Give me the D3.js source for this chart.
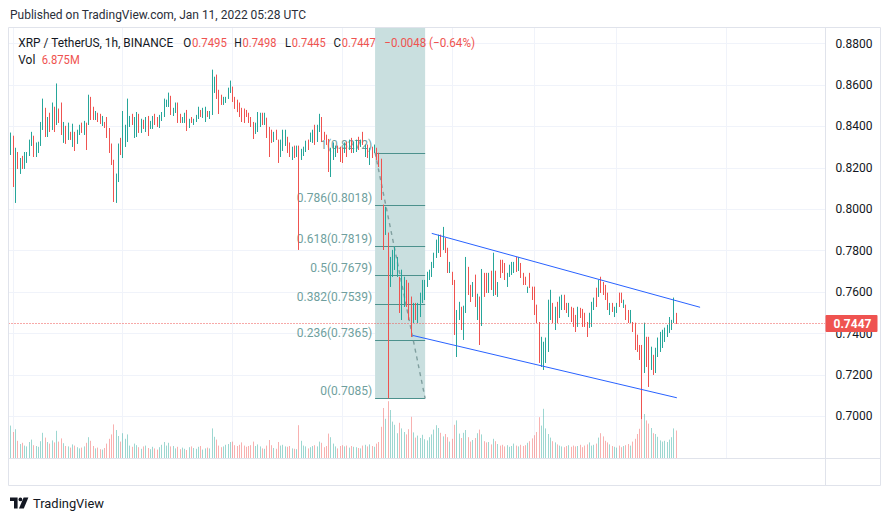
<!DOCTYPE html>
<html><head><meta charset="utf-8">
<script src="https://cdn.jsdelivr.net/npm/d3@7"></script>
<style>html,body{margin:0;padding:0;background:#fff;}svg{display:block;font-family:Roboto,"Noto Sans",sans-serif;}</style>
</head><body>
<svg id="chart" width="891" height="521"></svg>
<script>
// ---------------- DATA ----------------
const firstCandle = Date.UTC(2021, 11, 29, 23); // hourly candles from here
const open = [
.8261,.8353,.8030,.8275,.8170,.8256,.8194,.8223,.8256,.8305,.8353,.8251,.8271,.8305,.8382,.8488,.8348,.8464,.8382,.8493,.8406,.8484,.8513,.8320,.8401,.8334,.8372,.8300,.8372,.8315,.8358,.8416,.8358,.8416,.8406,.8541,.8493,.8430,.8464,.8459,.8401,.8420,.8444,.8391,.8315,.8237,.8030,.8130,.8343,
.8246,.8300,.8324,.8396,.8459,.8343,.8348,.8459,.8368,.8430,.8372,.8449,.8387,.8387,.8459,.8444,.8391,.8425,.8444,.8493,.8493,.8546,.8449,.8464,.8513,.8459,.8416,.8416,.8478,.8391,.8444,.8406,.8420,.8435,.8478,.8440,.8420,.8473,.8435,.8454,.8561,.8648,.8575,.8551,.8503,.8513,.8532,.8561,
.8590,.8541,.8527,.8513,.8488,.8484,.8478,.8464,.8444,.8420,.8363,.8372,.8396,.8464,.8406,.8440,.8396,.8382,.8324,.8382,.8334,.8251,.8280,.8305,.8348,.8320,.8237,.8305,.8251,.8305,.8237,.8256,.8275,.8334,.8324,.8320,.8406,.8324,.8372,.8444,.8372,.8358,.8338,.8155,.8237,.8251,.8305,.8300,
.8295,.8271,.8324,.8285,.8343,.8271,.8275,.8348,.8300,.8372,.8251,.8310,.8213,.8300,.8271,.8295,.8271,.8242,.8020,.7875,.7885,.7624,.7672,.7706,.7672,.7672,.7464,.7527,.7657,.7643,.7576,.7450,.7546,.7450,.7478,.7546,.7561,.7624,.7657,.7672,.7715,.7764,.7788,.7875,.7802,
.7860,.7812,.7691,.7696,.7657,.7285,.7464,.7527,.7368,.7498,.7720,.7633,.7576,.7682,.7464,.7576,.7435,.7691,.7691,.7595,.7701,.7580,.7701,.7576,.7754,.7754,.7739,.7624,.7672,.7682,.7691,.7768,.7701,.7739,.7691,.7672,.7595,.7691,.7624,.7624,.7537,.7454,.7237,.7223,.7257,.7310,.7464,
.7546,.7416,.7551,.7474,.7512,.7585,.7546,.7478,.7527,.7522,.7488,.7431,.7522,.7517,.7498,.7454,.7426,.7431,.7512,.7619,.7576,.7672,.7647,.7633,.7595,.7488,.7546,.7478,.7498,.7595,.7595,.7522,.7537,.7512,.7450,.7454,.7450,.7392,.7343,.7343,.7208,.7382,.7382,.7223,.7295,.7208,.7285,.7310,.7329,.7358,.7382,.7402,.7416,.7450,.7495
];
const high = [
.8368,.8353,.8295,.8275,.8246,.8256,.8275,.8275,.8334,.8372,.8353,.8320,.8324,.8420,.8532,.8488,.8444,.8464,.8513,.8493,.8605,.8484,.8513,.8420,.8401,.8416,.8372,.8411,.8372,.8382,.8406,.8416,.8425,.8416,.8551,.8541,.8493,.8473,.8464,.8459,.8449,.8420,.8444,.8391,.8315,.8237,.8170,.8315,.8343,
.8473,.8406,.8532,.8449,.8459,.8444,.8468,.8459,.8435,.8430,.8444,.8449,.8425,.8449,.8459,.8444,.8454,.8468,.8532,.8527,.8561,.8546,.8488,.8513,.8513,.8459,.8444,.8464,.8478,.8435,.8444,.8435,.8454,.8493,.8478,.8488,.8493,.8473,.8473,.8672,.8638,.8648,.8575,.8551,.8541,.8541,.8585,.8619,
.8590,.8541,.8527,.8513,.8488,.8484,.8478,.8464,.8444,.8420,.8416,.8468,.8464,.8464,.8464,.8440,.8396,.8382,.8372,.8382,.8334,.8334,.8382,.8382,.8348,.8320,.8300,.8305,.8305,.8305,.8290,.8300,.8329,.8334,.8368,.8382,.8406,.8406,.8459,.8444,.8372,.8358,.8338,.8295,.8320,.8305,.8305,.8300,
.8295,.8320,.8324,.8334,.8343,.8324,.8334,.8348,.8334,.8372,.8310,.8310,.8295,.8300,.8310,.8295,.8271,.8242,.8020,.8010,.7885,.7768,.7802,.7817,.7768,.7672,.7706,.7672,.7657,.7643,.7576,.7546,.7546,.7546,.7595,.7657,.7657,.7696,.7706,.7744,.7788,.7851,.7875,.7875,.7913,
.7860,.7812,.7744,.7696,.7657,.7512,.7551,.7527,.7532,.7768,.7720,.7633,.7647,.7682,.7590,.7576,.7710,.7691,.7691,.7691,.7701,.7788,.7701,.7647,.7754,.7754,.7739,.7691,.7730,.7744,.7744,.7768,.7768,.7739,.7691,.7672,.7624,.7691,.7624,.7624,.7537,.7454,.7382,.7358,.7378,.7561,.7609,
.7546,.7527,.7551,.7576,.7585,.7585,.7546,.7546,.7527,.7522,.7488,.7527,.7522,.7517,.7498,.7454,.7498,.7551,.7571,.7619,.7657,.7672,.7647,.7633,.7595,.7546,.7546,.7527,.7546,.7595,.7595,.7561,.7537,.7512,.7512,.7454,.7450,.7392,.7343,.7343,.7450,.7382,.7382,.7334,.7295,.7329,.7378,.7406,.7416,.7426,.7440,.7478,.7464,.7571,.7498
];
const low = [
.8261,.8106,.8030,.8194,.8170,.8194,.8194,.8223,.8256,.8305,.8251,.8251,.8271,.8305,.8382,.8348,.8348,.8372,.8382,.8372,.8406,.8416,.8358,.8320,.8315,.8334,.8334,.8300,.8280,.8315,.8358,.8368,.8358,.8285,.8406,.8430,.8430,.8430,.8420,.8411,.8401,.8391,.8343,.8271,.8213,.8034,.8030,.8130,.8261,
.8246,.8300,.8324,.8396,.8406,.8343,.8348,.8368,.8368,.8387,.8372,.8353,.8387,.8387,.8406,.8396,.8391,.8425,.8444,.8493,.8493,.8454,.8449,.8464,.8416,.8416,.8416,.8416,.8377,.8391,.8416,.8406,.8420,.8435,.8444,.8440,.8420,.8444,.8435,.8454,.8561,.8532,.8459,.8503,.8503,.8513,.8532,.8561,
.8517,.8484,.8468,.8444,.8420,.8416,.8444,.8416,.8396,.8338,.8363,.8372,.8396,.8406,.8406,.8343,.8251,.8320,.8324,.8334,.8223,.8251,.8280,.8305,.8271,.8251,.8237,.8246,.8251,.7802,.8237,.8256,.8275,.8285,.8324,.8320,.8310,.8324,.8372,.8324,.8334,.8310,.8179,.8155,.8237,.8251,.8271,.8227,
.8222,.8271,.8251,.8285,.8271,.8271,.8275,.8285,.8300,.8310,.8251,.8246,.8213,.8246,.8271,.8237,.8203,.8044,.7802,.7875,.7085,.7624,.7672,.7706,.7672,.7498,.7464,.7527,.7527,.7464,.7382,.7450,.7464,.7450,.7478,.7546,.7561,.7624,.7657,.7672,.7715,.7764,.7788,.7768,.7802,
.7788,.7691,.7691,.7633,.7392,.7285,.7464,.7416,.7368,.7498,.7585,.7551,.7576,.7527,.7464,.7343,.7435,.7576,.7595,.7595,.7609,.7580,.7585,.7576,.7667,.7691,.7657,.7624,.7672,.7682,.7691,.7696,.7701,.7667,.7633,.7633,.7595,.7619,.7561,.7488,.7450,.7257,.7237,.7223,.7257,.7310,.7464,
.7450,.7416,.7450,.7474,.7512,.7512,.7498,.7478,.7454,.7431,.7406,.7431,.7474,.7431,.7431,.7382,.7426,.7431,.7512,.7527,.7576,.7595,.7585,.7561,.7512,.7488,.7503,.7478,.7498,.7527,.7546,.7522,.7464,.7450,.7450,.7406,.7319,.7310,.7271,.6985,.7208,.7237,.7141,.7223,.7199,.7208,.7285,.7310,.7329,.7358,.7382,.7402,.7416,.7450,.7445
];
const close = [
.8368,.8106,.8295,.8194,.8246,.8194,.8275,.8275,.8334,.8372,.8251,.8320,.8324,.8420,.8532,.8348,.8444,.8372,.8513,.8372,.8605,.8416,.8358,.8420,.8315,.8416,.8334,.8411,.8280,.8382,.8406,.8368,.8425,.8285,.8551,.8430,.8430,.8473,.8420,.8411,.8449,.8391,.8343,.8271,.8213,.8034,.8170,.8315,.8261,
.8473,.8406,.8532,.8449,.8406,.8444,.8468,.8368,.8435,.8387,.8444,.8353,.8425,.8449,.8406,.8396,.8454,.8468,.8532,.8527,.8561,.8454,.8488,.8513,.8416,.8416,.8444,.8464,.8377,.8435,.8416,.8435,.8454,.8493,.8444,.8488,.8493,.8444,.8473,.8672,.8638,.8532,.8459,.8503,.8541,.8541,.8585,.8619,
.8517,.8484,.8468,.8444,.8420,.8416,.8444,.8416,.8396,.8338,.8416,.8468,.8464,.8406,.8464,.8343,.8251,.8320,.8372,.8334,.8223,.8334,.8382,.8382,.8271,.8251,.8300,.8246,.8305,.8251,.8290,.8300,.8329,.8285,.8368,.8382,.8310,.8406,.8459,.8324,.8334,.8310,.8179,.8295,.8320,.8305,.8271,.8227,
.8222,.8320,.8251,.8334,.8271,.8324,.8334,.8285,.8334,.8310,.8310,.8246,.8295,.8246,.8310,.8237,.8203,.8044,.7802,.8010,.7420,.7768,.7802,.7817,.7768,.7498,.7706,.7672,.7527,.7464,.7382,.7546,.7464,.7546,.7595,.7657,.7657,.7696,.7706,.7744,.7788,.7851,.7875,.7768,.7913,
.7788,.7691,.7744,.7633,.7392,.7512,.7551,.7416,.7532,.7768,.7585,.7551,.7647,.7527,.7590,.7343,.7710,.7576,.7595,.7691,.7609,.7788,.7585,.7647,.7667,.7691,.7657,.7691,.7730,.7744,.7744,.7696,.7768,.7667,.7633,.7633,.7624,.7619,.7561,.7488,.7450,.7257,.7382,.7358,.7378,.7561,.7609,
.7450,.7527,.7450,.7576,.7585,.7512,.7498,.7546,.7454,.7431,.7406,.7527,.7474,.7431,.7431,.7382,.7498,.7551,.7571,.7527,.7657,.7595,.7585,.7561,.7512,.7546,.7503,.7527,.7546,.7527,.7546,.7561,.7464,.7450,.7512,.7406,.7319,.7310,.7271,.7250,.7450,.7237,.7141,.7334,.7199,.7329,.7378,.7406,.7416,.7426,.7440,.7478,.7464,.7571,.7447
];
const volume = [ // millions
8.1,6.5,7.2,4.3,3.5,3.8,3.1,2.9,4.0,4.6,3.2,3.0,2.8,4.2,6.3,5.1,4.0,3.6,4.4,3.9,6.8,4.1,4.9,3.7,3.0,2.9,2.6,3.4,3.1,2.7,2.4,2.6,2.9,3.8,5.2,4.3,3.0,2.4,2.6,2.2,2.1,2.5,3.6,4.8,5.9,8.4,7.0,5.5,4.1,
6.2,4.8,5.9,3.1,2.8,3.6,3.2,2.7,2.3,2.9,3.1,2.5,2.2,2.8,2.4,2.1,2.7,3.3,4.0,3.1,3.8,2.9,3.0,2.4,2.8,2.2,2.6,2.3,2.0,2.7,2.9,2.5,2.3,2.8,3.0,2.1,2.4,2.6,2.4,7.4,5.3,4.6,3.1,2.7,2.9,3.3,3.5,4.0,
4.1,3.2,3.0,3.3,3.9,3.1,2.8,3.0,3.2,4.1,3.0,3.4,2.9,2.4,2.3,3.1,4.5,3.2,2.5,2.3,4.0,3.1,3.3,2.9,2.8,3.0,2.4,2.3,2.2,8.2,4.3,3.1,2.9,2.4,2.7,3.0,3.2,2.9,4.1,3.8,2.7,3.0,6.1,5.2,3.6,2.9,2.4,3.0,
3.2,2.9,3.1,2.6,3.0,2.8,2.7,2.5,2.4,3.1,3.3,2.9,3.4,3.0,2.8,3.6,4.0,7.8,12.5,9.8,14.2,12.0,9.1,8.3,6.2,8.8,7.4,6.5,5.9,7.2,10.3,6.4,5.1,5.6,5.0,5.8,4.7,4.4,5.2,5.9,7.1,8.2,7.5,6.3,5.4,
6.0,5.2,4.1,4.8,8.3,9.4,6.1,5.0,6.3,7.0,5.2,4.1,4.5,5.0,6.2,7.1,5.9,4.2,3.9,4.0,3.4,4.8,4.2,3.5,3.1,3.3,2.9,3.2,2.8,3.0,3.6,3.1,2.9,3.3,3.0,3.2,3.8,4.2,4.9,5.7,6.5,10.2,8.1,12.3,7.4,6.0,5.1,
4.2,3.9,3.4,3.1,2.9,2.7,3.0,3.2,2.8,3.1,2.9,3.0,3.3,2.7,3.1,3.4,3.9,3.1,3.3,3.6,5.1,6.2,5.4,4.3,3.9,3.4,3.0,2.8,2.6,3.1,2.7,3.0,3.2,3.5,3.1,4.1,4.8,6.0,7.3,13.2,11.0,9.4,8.6,7.5,6.2,6.0,5.3,4.4,4.1,4.3,4.0,4.6,5.2,7.4,6.875
];
const priceTicks = [0.70,0.72,0.74,0.76,0.78,0.80,0.82,0.84,0.86,0.88];
const timeTicks = [Date.UTC(2021,11,30), Date.UTC(2022,0,1), Date.UTC(2022,0,3), Date.UTC(2022,0,5), Date.UTC(2022,0,7), Date.UTC(2022,0,8,12), Date.UTC(2022,0,10), Date.UTC(2022,0,12)];
const timeLabels = ["30","2022","3","5","7","12:00","10","12"];
const fibRatios = ["1","0.786","0.618","0.5","0.382","0.236","0"];
const fibPrices = [0.8272,0.8018,0.7819,0.7679,0.7539,0.7365,0.7085];
const fibStart = Date.UTC(2022,0,5,14,30), fibEnd = Date.UTC(2022,0,6,12,24);
const channelUpper = [[Date.UTC(2022,0,6,15,18),0.7882],[Date.UTC(2022,0,11,12,40),0.7525]];
const channelLower = [[Date.UTC(2022,0,6,7,0),0.7389],[Date.UTC(2022,0,11,2,30),0.7088]];
const lastPrice = 0.7447;

// ---------------- LAYOUT ----------------
const UP = "#26a69a", DOWN = "#ef5350", BORDER = "#e0e3eb", GRID = "#f0f3fa", TXT = "#131722";
const L = 8.5, R = 825.5, T = 27.5, B = 458.5, OR = 880.5, OB = 485.5;
const svg = d3.select("#chart");
const x = d3.scaleUtc().domain([new Date(Date.UTC(2021,11,30)), new Date(Date.UTC(2022,0,12))]).range([12.7, 726]);
const y = d3.scaleLinear().domain([0.70, 0.88]).range([416, 43.3]);
const yVol = d3.scaleLinear().domain([0, 25]).range([458, 358]);
const n = Math.min(open.length, high.length, low.length, close.length);
const tAt = i => new Date(firstCandle + i * 3600000);

svg.append("defs").append("clipPath").attr("id","pane").append("rect")
  .attr("x", L).attr("y", T).attr("width", R - L).attr("height", B - T);

// header
svg.append("text").attr("x", 10).attr("y", 19).attr("font-size", 12.5).attr("fill", "#2a2e39")
  .attr("textLength", 296).attr("lengthAdjust","spacingAndGlyphs")
  .text("Published on TradingView.com, Jan 11, 2022 05:28 UTC");

const pane = svg.append("g").attr("clip-path","url(#pane)");
// grid
pane.selectAll("line.hg").data(priceTicks).join("line").attr("class","hg")
  .attr("x1", L).attr("x2", R).attr("y1", d => Math.round(y(d)) + 0.5).attr("y2", d => Math.round(y(d)) + 0.5)
  .attr("stroke", GRID).attr("stroke-width", 1);
pane.selectAll("line.vg").data(timeTicks).join("line").attr("class","vg")
  .attr("x1", d => Math.round(x(d)) + 0.5).attr("x2", d => Math.round(x(d)) + 0.5).attr("y1", T).attr("y2", B)
  .attr("stroke", GRID).attr("stroke-width", 1);

// fib background
const fx0 = x(new Date(fibStart)), fx1 = x(new Date(fibEnd));
pane.append("rect").attr("x", fx0).attr("y", T).attr("width", fx1 - fx0)
  .attr("height", y(fibPrices[fibPrices.length - 1]) - T).attr("fill", "#c9dfdf");

// volume
pane.selectAll("rect.vol").data(d3.range(Math.min(n, volume.length))).join("rect").attr("class","vol")
  .attr("x", i => Math.round(x(tAt(i)))).attr("width", 1)
  .attr("y", i => yVol(volume[i])).attr("height", i => 458 - yVol(volume[i]))
  .attr("fill", i => close[i] >= open[i] ? UP : DOWN).attr("fill-opacity", 0.45);

// fib levels
pane.selectAll("line.fib").data(fibPrices).join("line").attr("class","fib")
  .attr("x1", fx0).attr("x2", fx1).attr("y1", d => Math.round(y(d)) + 0.5).attr("y2", d => Math.round(y(d)) + 0.5)
  .attr("stroke", "#4c918d").attr("stroke-width", 1.2);
pane.selectAll("text.fib").data(fibPrices).join("text").attr("class","fib")
  .attr("x", fx0 - 3).attr("y", d => y(d) - 3.5).attr("text-anchor","end")
  .attr("font-size", 12).attr("fill", "#6f9f9e")
  .text((d, i) => fibRatios[i] + "(" + d.toFixed(4) + ")");
pane.append("line").attr("x1", fx0).attr("y1", y(fibPrices[0])).attr("x2", fx1).attr("y2", y(fibPrices[fibPrices.length - 1]))
  .attr("stroke", "#809f9f").attr("stroke-width", 1.4).attr("stroke-dasharray", "4,4");

// candles
pane.selectAll("line.c").data(d3.range(n)).join("line").attr("class","c")
  .attr("x1", i => Math.round(x(tAt(i))) + 0.5).attr("x2", i => Math.round(x(tAt(i))) + 0.5)
  .attr("y1", i => y(high[i])).attr("y2", i => Math.max(y(low[i]), y(high[i]) + 1))
  .attr("stroke", i => close[i] >= open[i] ? UP : DOWN).attr("stroke-width", 1);
pane.selectAll("rect.body").data(d3.range(n)).join("rect").attr("class","body")
  .attr("x", i => Math.round(x(tAt(i)))).attr("width", 1)
  .attr("y", i => y(Math.max(open[i], close[i])))
  .attr("height", i => Math.max(1, Math.abs(y(open[i]) - y(close[i]))))
  .attr("fill", i => close[i] >= open[i] ? UP : DOWN);

// channel
const line = d3.line().x(d => x(new Date(d[0]))).y(d => y(d[1]));
pane.append("path").attr("d", line(channelUpper)).attr("stroke", "#2962ff").attr("stroke-width", 1).attr("fill","none");
pane.append("path").attr("d", line(channelLower)).attr("stroke", "#2962ff").attr("stroke-width", 1).attr("fill","none");

// last price dotted line
pane.append("line").attr("x1", L).attr("x2", R).attr("y1", Math.round(y(lastPrice)) + 0.5).attr("y2", Math.round(y(lastPrice)) + 0.5)
  .attr("stroke", DOWN).attr("stroke-width", 1).attr("stroke-dasharray", "1,2");

// borders
const borders = [[L, T, OR, T], [L, T, L, OB], [OR, T, OR, OB], [L, OB, OR, OB], [R, T, R, OB], [L, B, OR, B]];
svg.selectAll("line.b").data(borders).join("line").attr("class","b")
  .attr("x1", d => d[0]).attr("y1", d => d[1]).attr("x2", d => d[2]).attr("y2", d => d[3])
  .attr("stroke", BORDER).attr("stroke-width", 1);

// price axis
const pa = svg.append("g").attr("transform", `translate(${R},0)`)
  .call(d3.axisRight(y).tickValues(priceTicks).tickFormat(d3.format(".4f")).tickSize(0).tickPadding(10));
pa.select(".domain").remove();
pa.selectAll("text").attr("font-size", 12).attr("fill", TXT).attr("font-family", "Roboto, sans-serif");

// time axis
svg.append("clipPath").attr("id","taxis").append("rect").attr("x", L).attr("y", B).attr("width", R - L).attr("height", OB - B);
const ta = svg.append("g").attr("transform", `translate(0,${B})`).attr("clip-path","url(#taxis)")
  .call(d3.axisBottom(x).tickValues(timeTicks.map(d => new Date(d))).tickFormat((d, i) => timeLabels[i]).tickSize(0).tickPadding(9.5));
ta.select(".domain").remove();
ta.selectAll("text").attr("font-size", 12).attr("fill", TXT).attr("font-family", "Roboto, sans-serif")
  .attr("font-weight", (d, i) => timeLabels[i] === "2022" ? 600 : 400);

// last price label
const lp = svg.append("g");
lp.append("rect").attr("x", R).attr("y", y(lastPrice) - 8.5).attr("width", 52).attr("height", 17).attr("fill", DOWN).attr("rx", 1);
lp.append("text").attr("x", R + 8).attr("y", y(lastPrice) + 4.3).attr("font-size", 12).attr("font-weight", 700)
  .attr("fill", "#fff").text(lastPrice.toFixed(4));

// legend
const leg = svg.append("g").attr("font-size", 12.5);
const legendItems = [
  ["XRP / TetherUS, 1h, BINANCE", 18.3, 47, TXT, 155],
  ["O", 183.3, 47, TXT, 8], [open[n-1].toFixed(4), 191.9, 47, DOWN, 35],
  ["H", 234.3, 47, TXT, 7.5], [high[n-1].toFixed(4), 242.5, 47, DOWN, 34],
  ["L", 285, 47, TXT, 6], [low[n-1].toFixed(4), 291.8, 47, DOWN, 34],
  ["C", 333.5, 47, TXT, 7.5], [close[n-1].toFixed(4), 341.8, 47, DOWN, 34],
  ["\u22120.0048", 384.3, 47, DOWN, 42], ["(\u22120.64%)", 429, 47, DOWN, 46],
  ["Vol", 18.3, 64, TXT, 17], [volume[n-1].toFixed(3) + "M", 41.7, 64, DOWN, 38]
];
legendItems.forEach(d => {
  const t = leg.append("text").attr("x", d[1]).attr("y", d[2]).attr("fill", d[3]).text(d[0]);
  if (d[4]) t.attr("textLength", d[4]).attr("lengthAdjust", "spacingAndGlyphs");
});

// TradingView logo
const logo = svg.append("g").attr("fill", TXT);
logo.append("path").attr("d", "M10,497.5 h7.6 v11 h-3.6 v-7.4 h-4 z");
logo.append("circle").attr("cx", 20.4).attr("cy", 499.4).attr("r", 1.9);
logo.append("path").attr("d", "M23.6,497.5 h4.8 l-4.6,11 h-4.8 z");
logo.append("text").attr("x", 33).attr("y", 508).attr("font-size", 13).attr("textLength", 71)
  .attr("lengthAdjust","spacingAndGlyphs").text("TradingView");
</script>
</body></html>
